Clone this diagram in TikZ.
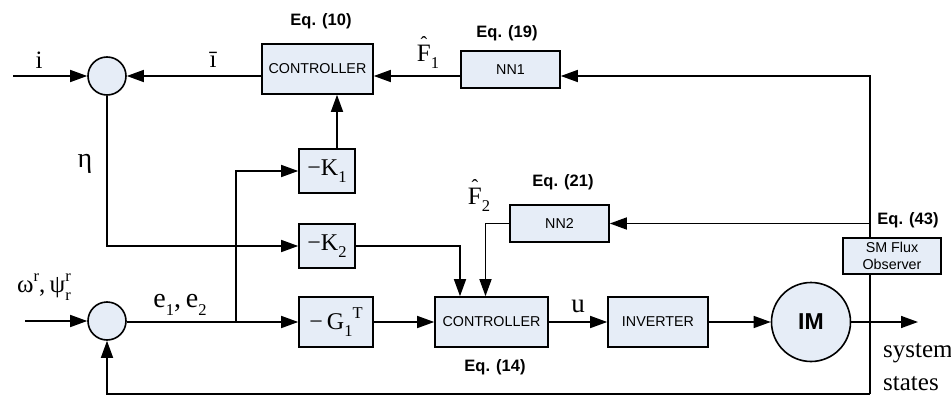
\documentclass[tikz,border=0pt]{standalone}
\usepackage{fontspec}
\setmainfont{Liberation Serif}
\newfontfamily\arialf{Liberation Sans}
\usetikzlibrary{arrows.meta}
\definecolor{boxfill}{HTML}{E6EDF7}
\newcommand\hatF{\leavevmode\ooalign{F\cr\hidewidth\raisebox{0.42em}{\fontsize{20}{20}\selectfont\char"02C6}\hidewidth\cr}}
\newcommand\lsub[1]{\raisebox{-0.3em}{\fontsize{16.5}{16.5}\selectfont #1}}
\newcommand\lsup[1]{\raisebox{0.45em}{\fontsize{16.5}{16.5}\selectfont #1}}
\tikzset{
  blk/.style={draw, line width=1.6pt, fill=boxfill, inner sep=0pt,
    font=\arialf\fontsize{14.3}{17}\selectfont},
  sumc/.style={circle, draw, line width=1.6pt, fill=boxfill, minimum size=38pt, inner sep=0pt},
  arr/.style={-{Triangle[length=17pt,width=12pt]}, line width=1.5pt},
  eqlbl/.style={font=\arialf\bfseries\fontsize{16.5}{18}\selectfont, inner sep=0pt},
  mlbl/.style={font=\fontsize{25}{27}\selectfont, inner sep=0pt},
  mfont/.style={font=\fontsize{24}{26}\selectfont},
}
\begin{document}
\begin{tikzpicture}[x=1pt,y=-1pt]
\useasboundingbox (0,0) rectangle (951,396);
% nodes
\node[sumc] (c1) at (107,76) {};
\node[sumc] (c2) at (107,321) {};
\node[blk, minimum width=111pt, minimum height=50pt] (ctrl1) at (317.5,69) {CONTROLLER};
\node[blk, minimum width=99pt, minimum height=37pt] (nn1) at (510.5,69.5) {NN1};
\node[blk, mfont, minimum width=56pt, minimum height=44pt] (k1) at (327,171) {−K\lsub{1}};
\node[blk, mfont, minimum width=56pt, minimum height=44pt] (k2) at (327,246) {−K\lsub{2}};
\node[blk, mfont, minimum width=74pt, minimum height=50pt] (g1) at (336,322) {−\,G\lsub{1}\lsup{T}};
\node[blk, minimum width=113pt, minimum height=50pt] (ctrl2) at (491.5,322) {CONTROLLER};
\node[blk, minimum width=100pt, minimum height=50pt] (inv) at (658,322) {INVERTER};
\node[circle, draw, line width=1.6pt, fill=boxfill, minimum size=79pt, inner sep=0pt,
  font=\arialf\bfseries\fontsize{23}{25}\selectfont] (im) at (811,322) {IM};
\node[blk, minimum width=99pt, minimum height=37pt] (nn2) at (559.5,223.5) {NN2};
% coordinates
\coordinate (in1) at (13,76);
\coordinate (in2) at (25,321);
\coordinate (br) at (236,322);
\coordinate (vtop) at (870,76);
\coordinate (vbot) at (870,394);
\coordinate (sysout) at (918,322);
% connectors
\draw[arr] (in1) -- (c1.west);
\draw[arr] (ctrl1.west |- c1) -- (c1.east);
\draw[arr] (nn1.west |- c1) -- (ctrl1.east |- c1);
\draw[arr] ([xshift=10pt]k1.north) -- ([xshift=10pt]k1.north |- ctrl1.south);
\draw[arr] (c1.south) |- (k2.west);
\draw[arr] (in2) -- (c2.west);
\draw[arr] (c2.east |- g1) -- (g1.west);
\draw[arr] (br) |- (k1.west);
\draw[arr] (g1.east) -- (ctrl2.west);
\draw[arr] (k2.east) -| ([xshift=-31.5pt]ctrl2.north);
\draw[arr] (nn2.west) -| ([xshift=-6pt]ctrl2.north);
\draw[arr] (ctrl2.east) -- (inv.west);
\draw[arr] (inv.east) -- (im.west);
\draw[arr] (im.east) -- (sysout);
\draw[arr] (vbot) -- (vtop) -- (nn1.east |- vtop);
\draw[arr] (vtop |- nn2.east) -- (nn2.east);
\draw[arr] (vbot) -| (c2.south);
% observer drawn over the line
\node[blk, align=center, minimum width=98pt, minimum height=36pt] (obs) at (892,256) {SM Flux\\Observer};
% labels
\node[eqlbl] (eq10) at (321,21) {Eq. (10)};
\node[eqlbl] (eq19) at (507,33) {Eq. (19)};
\node[eqlbl] (eq21) at (563,182) {Eq. (21)};
\node[eqlbl] (eq43) at (908,220) {Eq. (43)};
\node[eqlbl] (eq14) at (495,367) {Eq. (14)};
\node[mlbl] (li) at (39,60) {i};
\node[mlbl] (libar) at (213,60) {ī};
\node[mlbl] (lf1) at (428,57) {\hatF\lsub{1}};
\node[mlbl, font=\fontsize{28}{30}\selectfont] (leta) at (85,164) {η};
\node[mlbl] (lomega) at (44,287) {ω\lsup{r},\,ψ\makebox[0pt][l]{\lsup{r}}\lsub{r}};
\node[mlbl, font=\fontsize{28}{30}\selectfont] (le) at (180,305) {e\lsub{1},\,e\lsub{2}};
\node[mlbl] (lf2) at (479,200) {\hatF\lsub{2}};
\node[mlbl, font=\fontsize{27}{29}\selectfont] (lu) at (578,306) {u};
\node[mlbl, anchor=west] (lsys) at (883,353) {system};
\node[mlbl, anchor=west] (lstates) at (883,384) {states};
\end{tikzpicture}
\end{document}
